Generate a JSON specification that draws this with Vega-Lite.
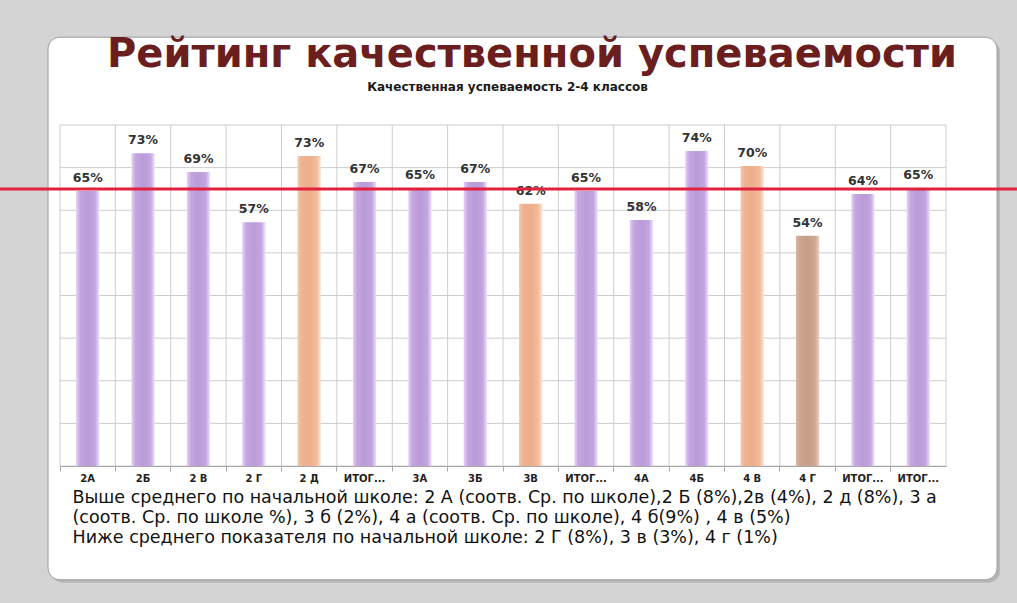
{
  "$schema": "https://vega.github.io/schema/vega-lite/v6.json",
  "width": 886,
  "height": 341,
  "autosize": {"type": "none"},
  "padding": {"left": 60, "top": 125, "right": 71, "bottom": 137},
  "background": "#d4d4d4",
  "config": {"view": {"stroke": null}},
  "title": {
    "text": "Рейтинг качественной успеваемости",
    "font": "DejaVu Sans",
    "fontSize": 40,
    "fontWeight": "bold",
    "color": "#6b1e1e",
    "anchor": "middle",
    "dx": 29,
    "offset": -38
  },
  "datasets": {
    "bars": [
      {"id": "2А", "v": 64.5, "lbl": "65%", "grp": "p"},
      {"id": "2Б", "v": 73.4, "lbl": "73%", "grp": "p"},
      {"id": "2 В", "v": 69.0, "lbl": "69%", "grp": "p"},
      {"id": "2 Г", "v": 57.2, "lbl": "57%", "grp": "p"},
      {"id": "2 Д", "v": 72.7, "lbl": "73%", "grp": "o"},
      {"id": "ИТОГ 2", "v": 66.6, "lbl": "67%", "grp": "p"},
      {"id": "3А", "v": 65.2, "lbl": "65%", "grp": "p"},
      {"id": "3Б", "v": 66.6, "lbl": "67%", "grp": "p"},
      {"id": "3В", "v": 61.5, "lbl": "62%", "grp": "o"},
      {"id": "ИТОГ 3", "v": 64.5, "lbl": "65%", "grp": "p"},
      {"id": "4А", "v": 57.7, "lbl": "58%", "grp": "p"},
      {"id": "4Б", "v": 73.9, "lbl": "74%", "grp": "p"},
      {"id": "4 В", "v": 70.4, "lbl": "70%", "grp": "o"},
      {"id": "4 Г", "v": 54.0, "lbl": "54%", "grp": "b"},
      {"id": "ИТОГ 4", "v": 63.8, "lbl": "64%", "grp": "p"},
      {"id": "ИТОГ", "v": 65.2, "lbl": "65%", "grp": "p"}
    ],
    "grid": [{"g": 0}, {"g": 10}, {"g": 20}, {"g": 30}, {"g": 40}, {"g": 50}, {"g": 60}, {"g": 70}, {"g": 80}],
    "one": [{"a": 1}]
  },
  "layer": [
    {
      "data": {"name": "one"},
      "layer": [
        {
          "mark": {"type": "rect", "fill": "#a9a9a9", "cornerRadius": 12, "opacity": 0.7},
          "encoding": {
            "x": {"datum": -0.0102, "type": "quantitative", "scale": {"domain": [0, 1]},
              "axis": {"orient": "top", "labels": false, "ticks": false, "domain": false, "grid": false,
                "title": "Качественная успеваемость 2-4 классов", "titleFont": "DejaVu Sans", "titleFontSize": 12,
                "titleFontWeight": "bold", "titleColor": "#1a1a1a", "titleX": 447, "titleY": -39,
                "titleBaseline": "middle", "titleAlign": "center", "zindex": 1}},
            "x2": {"datum": 1.0610},
            "y": {"datum": 99.9, "type": "quantitative", "scale": {"domain": [0, 80]}, "axis": null},
            "y2": {"datum": -27.4}
          }
        },
        {
          "mark": {"type": "rect", "fill": "#ffffff", "stroke": "#9c9c9c", "strokeWidth": 1, "cornerRadius": 12},
          "encoding": {
            "x": {"datum": -0.0135, "type": "quantitative"},
            "x2": {"datum": 1.0576},
            "y": {"datum": 100.6, "type": "quantitative", "axis": null},
            "y2": {"datum": -26.7}
          }
        },
        {
          "mark": {"type": "rule", "color": "#cccccc", "strokeWidth": 1},
          "encoding": {"x": {"datum": 1, "type": "quantitative"}}
        }
      ]
    },
    {
      "data": {"name": "grid"},
      "mark": {"type": "rule", "color": "#cccccc", "strokeWidth": 1},
      "encoding": {"y": {"field": "g", "type": "quantitative", "scale": {"domain": [0, 80]}, "axis": null}}
    },
    {
      "data": {"name": "bars"},
      "layer": [
        {
          "mark": {"type": "rule", "color": "#cccccc", "strokeWidth": 1},
          "encoding": {
            "x": {"field": "id", "type": "nominal", "sort": null, "bandPosition": 0,
              "axis": {"orient": "bottom", "bandPosition": 0, "grid": false, "domainColor": "#a8a8a8",
                "tickColor": "#a8a8a8", "tickSize": 5, "labelAngle": 0, "labelFont": "DejaVu Sans",
                "labelFontSize": 10, "labelFontWeight": "bold", "labelColor": "#222222", "labelPadding": 2,
                "labelExpr": "indexof(datum.value, 'ИТОГ') === 0 ? 'ИТОГ...' : datum.value",
                "title": [
                  "Выше среднего по начальной школе: 2 А (соотв. Ср. по школе),2 Б (8%),2в (4%), 2 д (8%), 3 а",
                  "(соотв. Ср. по школе %), 3 б (2%), 4 а (соотв. Ср. по школе), 4 б(9%) , 4 в (5%)",
                  "Ниже среднего показателя по начальной школе: 2 Г (8%), 3 в (3%), 4 г (1%)"
                ],
                "titleFont": "DejaVu Sans", "titleFontSize": 17.5, "titleFontWeight": "normal", "titleColor": "#111111",
                "titleAnchor": "start", "titleAlign": "left", "titleBaseline": "top", "titleX": 12, "titleY": 22,
                "titleLineHeight": 20, "zindex": 1}}
          }
        },
        {
          "transform": [{"filter": "datum.grp === 'p'"}],
          "mark": {"type": "bar", "width": {"band": 0.42},
            "color": {"gradient": "linear", "x1": 0, "y1": 0, "x2": 1, "y2": 0,
              "stops": [{"offset": 0, "color": "#e6d3f8"}, {"offset": 0.18, "color": "#c3a5df"},
                {"offset": 0.5, "color": "#b99bd7"}, {"offset": 0.82, "color": "#c2a6e0"}, {"offset": 1, "color": "#efe2fc"}]}},
          "encoding": {
            "x": {"field": "id", "type": "nominal", "sort": null},
            "y": {"field": "v", "type": "quantitative", "axis": null}
          }
        },
        {
          "transform": [{"filter": "datum.grp === 'o'"}],
          "mark": {"type": "bar", "width": {"band": 0.42},
            "color": {"gradient": "linear", "x1": 0, "y1": 0, "x2": 1, "y2": 0,
              "stops": [{"offset": 0, "color": "#f6c8ad"}, {"offset": 0.18, "color": "#eeb392"},
                {"offset": 0.5, "color": "#ecae8c"}, {"offset": 0.82, "color": "#f1bb9c"}, {"offset": 1, "color": "#fde3cf"}]}},
          "encoding": {
            "x": {"field": "id", "type": "nominal", "sort": null},
            "y": {"field": "v", "type": "quantitative", "axis": null}
          }
        },
        {
          "transform": [{"filter": "datum.grp === 'b'"}],
          "mark": {"type": "bar", "width": {"band": 0.42},
            "color": {"gradient": "linear", "x1": 0, "y1": 0, "x2": 1, "y2": 0,
              "stops": [{"offset": 0, "color": "#dcb8a6"}, {"offset": 0.18, "color": "#cba38e"},
                {"offset": 0.5, "color": "#c79f89"}, {"offset": 0.82, "color": "#cda894"}, {"offset": 1, "color": "#ead0c2"}]}},
          "encoding": {
            "x": {"field": "id", "type": "nominal", "sort": null},
            "y": {"field": "v", "type": "quantitative", "axis": null}
          }
        },
        {
          "mark": {"type": "text", "font": "DejaVu Sans", "fontSize": 12.5, "fontWeight": "bold", "color": "#333333",
            "baseline": "bottom", "dy": -6},
          "encoding": {
            "x": {"field": "id", "type": "nominal", "sort": null},
            "y": {"field": "v", "type": "quantitative", "axis": null},
            "text": {"field": "lbl"}
          }
        }
      ]
    },
    {
      "data": {"name": "one"},
      "mark": {"type": "rule", "color": "#e1213d", "strokeWidth": 3},
      "encoding": {
        "x": {"datum": -0.0677, "type": "quantitative", "scale": {"domain": [0, 1]}, "axis": null},
        "x2": {"datum": 1.0801},
        "y": {"datum": 65, "type": "quantitative", "axis": null}
      }
    }
  ],
  "resolve": {"scale": {"x": "independent"}}
}
